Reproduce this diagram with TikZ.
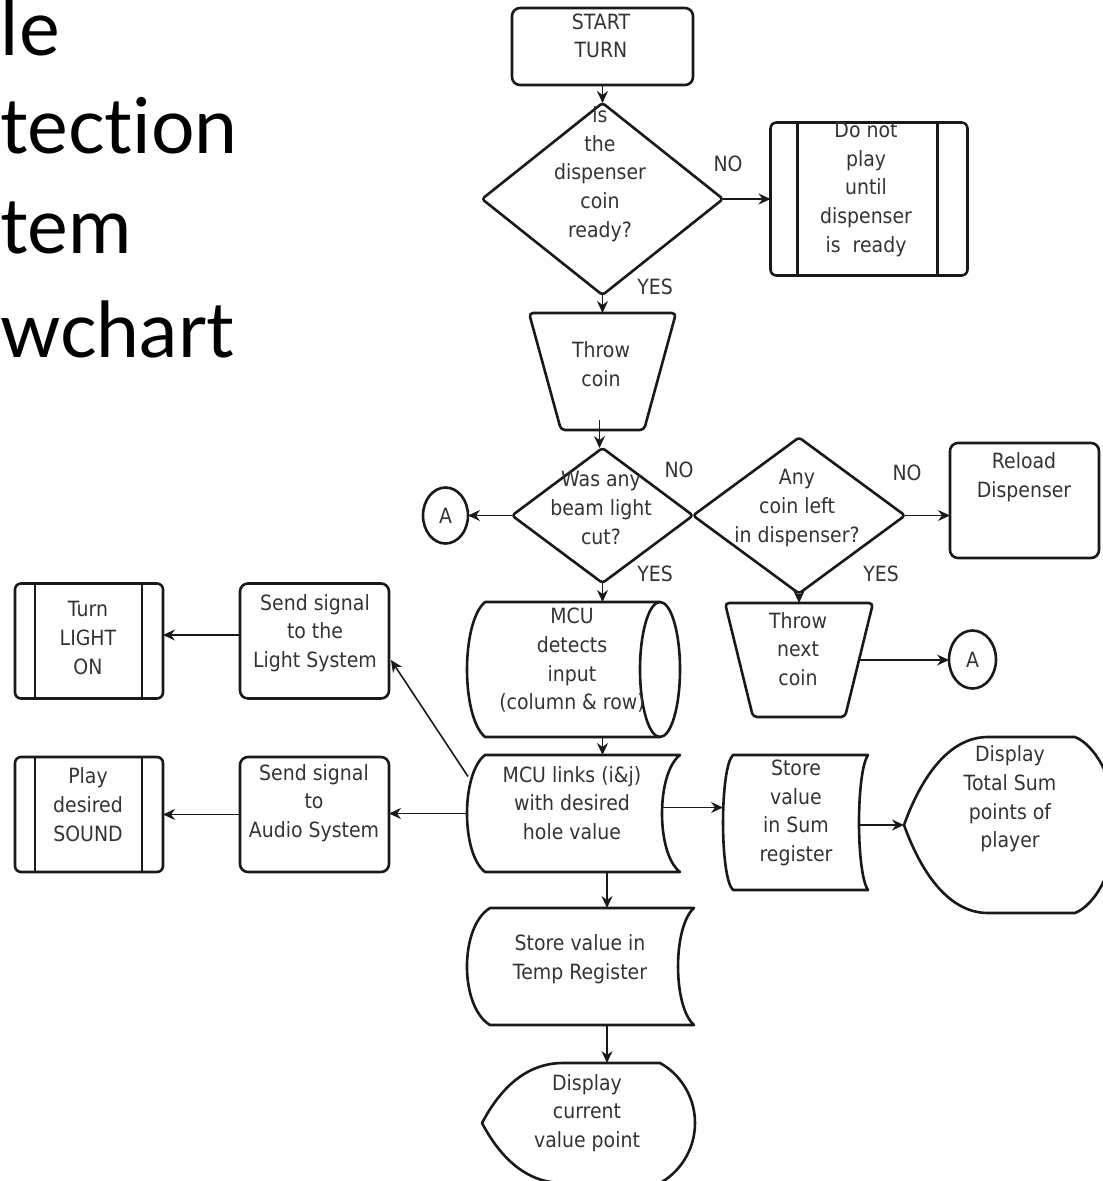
\documentclass[tikz,border=0pt]{standalone}
\usepackage{fontspec}
\setmainfont{DejaVu Sans}[FakeStretch=0.9]
\newfontfamily\titlefont{Lato}[Ligatures={NoCommon,NoRequired,NoContextual}]
\usetikzlibrary{shapes.geometric,arrows.meta,calc}

% two vertical rules of a predefined-process box
\newcommand\pplines[3]{%
  \draw[outline] ([xshift=#2pt]#1.north west) -- ([xshift=#2pt]#1.south west);
  \draw[outline] ([xshift=-#3pt]#1.north east) -- ([xshift=-#3pt]#1.south east);}

\begin{document}
\begin{tikzpicture}[x=1pt,y=-1pt,
  every node/.style={inner sep=0pt,outer sep=0pt},
  outline/.style={draw=black!90,line width=2.6pt,line join=round},
  bb/.style 2 args={rectangle,minimum width=#1pt,minimum height=#2pt},
  rbox/.style 2 args={bb={#1}{#2},outline,rounded corners=8pt},
  pbox/.style 2 args={bb={#1}{#2},outline,rounded corners=6pt},
  conn/.style={ellipse,outline,font=\fontsize{21}{28}\selectfont,text=black!80},
  txt/.style={align=center,text=black!80,font=\fontsize{21}{28.7}\selectfont},
  title/.style={anchor=base west,font=\titlefont\fontsize{77}{86}\selectfont},
  arr/.style={draw=black!90,line width=1.6pt,-{Stealth[length=12pt,width=11pt,inset=4pt]}},
  line/.style={draw=black!90,line width=1.6pt}]

\useasboundingbox (0,0) rectangle (1103,1181);

% heading lines
\node[title] (h1) at (1,55) {le};
\node[title] (h2) at (0,153) {tection};
\node[title] (h3) at (0,253) {tem};
\node[title] (h4) at (0,357) {wchart};

% ---------- shapes ----------
\node[rbox={181}{77}] (start) at (602.5,46.5) {};
\node[txt] (start-t) at (601,36) {START\\TURN};

\node[bb={241}{192}] (d1) at (602.5,199) {};
\draw[outline,rounded corners=3pt] (d1.north) -- (d1.east) -- (d1.south) -- (d1.west) -- cycle;
\node[txt] (d1-t) at (600,174) {is\\the\\dispenser\\coin\\ready?};

\node[pbox={197}{153}] (dnp) at (869,199) {};
\pplines{dnp}{27}{30}
\node[txt] (dnp-t) at (866,189.5) {Do not\\play\\until\\dispenser\\is\ \ ready};

\node[bb={147}{117}] (tc) at (602.5,371.5) {};
\draw[outline,rounded corners=4pt] (tc.north west) -- (tc.north east)
  -- ([xshift=-32pt]tc.south east) -- ([xshift=32pt]tc.south west) -- cycle;
\node[txt] (tc-t) at (601,364.5) {Throw\\coin};

\node[bb={181}{135}] (d2) at (602.5,515.5) {};
\draw[outline,rounded corners=3pt] (d2.north) -- (d2.east) -- (d2.south) -- (d2.west) -- cycle;
\node[txt] (d2-t) at (601,508) {Was any\\beam light\\cut?};

\node[bb={212}{156}] (d3) at (799,515.5) {};
\draw[outline,rounded corners=3pt] (d3.north) -- (d3.east) -- (d3.south) -- (d3.west) -- cycle;
\node[txt] (d3-t) at (797,508) {Any\\coin left\\in dispenser?};

\node[rbox={149}{115}] (reload) at (1024.5,500.5) {};
\node[txt] (reload-t) at (1024,477.5) {Reload\\Dispenser};

\node[bb={148}{114}] (tn) at (799,660) {};
\draw[outline,rounded corners=4pt] (tn.north west) -- (tn.north east)
  -- ([xshift=-28pt]tn.south east) -- ([xshift=28pt]tn.south west) -- cycle;
\node[txt] (tn-t) at (798,649) {Throw\\next\\coin};

\node[conn,minimum width=45pt,minimum height=56pt] (a1) at (445.5,515.5) {A};
\node[conn,minimum width=47pt,minimum height=58pt] (a2) at (972.5,659.5) {A};

% direct access storage
\node[bb={213}{135}] (cyl) at (573.5,669.5) {};
\draw[outline,shift={(cyl.center)}] (86.5,-67.5) -- (-88.5,-67.5)
  .. controls (-112.5,-47) and (-112.5,47) .. (-88.5,67.5) -- (86.5,67.5);
\draw[outline,shift={(cyl.center)}] (86.5,0) ellipse [x radius=20,y radius=67.5];
\node[txt] (cyl-t) at (572,660.5) {MCU\\detects\\input\\(column \& row)};

% stored data shapes
\node[bb={213}{117}] (links) at (573.5,813.5) {};
\draw[outline,shift={(links.center)}] (-88.5,-58.5) -- (106.5,-58.5)
  .. controls (82.5,-40) and (82.5,40) .. (106.5,58.5) -- (-88.5,58.5)
  .. controls (-112.5,40) and (-112.5,-40) .. cycle;
\node[txt] (links-t) at (572,803) {MCU links (i\&j)\\with desired\\hole value};

\node[bb={145}{135}] (sum) at (795.5,822.5) {};
\draw[outline,shift={(sum.center)}] (-62.5,-67.5) -- (72.5,-67.5)
  .. controls (60.5,-50) and (60.5,50) .. (72.5,67.5) -- (-62.5,67.5)
  .. controls (-75.8,55) and (-75.8,-55) .. cycle;
\node[txt] (sum-t) at (796,813) {Store\\value\\in Sum\\register};

\node[bb={227}{117}] (temp) at (580.5,966.5) {};
\draw[outline,shift={(temp.center)}] (-90.5,-58.5) -- (113.5,-58.5)
  .. controls (92.2,-40) and (92.2,40) .. (113.5,58.5) -- (-90.5,58.5)
  .. controls (-121.2,40) and (-121.2,-40) .. cycle;
\node[txt] (temp-t) at (580,959) {Store value in\\Temp Register};

% display shapes
\node[bb={212}{176}] (disp1) at (1010,825) {};
\draw[outline,shift={(disp1.center)}] (-106,0)
  .. controls (-88,-50) and (-60,-88) .. (-22,-88) -- (65,-88)
  .. controls (85,-80) and (106,-45) .. (106,0)
  .. controls (106,45) and (85,80) .. (65,88) -- (-22,88)
  .. controls (-60,88) and (-88,50) .. cycle;
\node[txt] (disp1-t) at (1010,799) {Display\\Total Sum\\points of\\player};

\node[bb={213}{120}] (disp2) at (588.5,1123) {};
\draw[outline,shift={(disp2.center)}] (-106.5,0)
  .. controls (-88,-35) and (-62,-60) .. (-25.5,-60) -- (71.5,-60)
  .. controls (90,-50) and (106.5,-28) .. (106.5,0)
  .. controls (106.5,28) and (90,50) .. (71.5,60) -- (-25.5,60)
  .. controls (-62,60) and (-88,35) .. cycle;
\node[txt] (disp2-t) at (587,1113) {Display\\current\\value point};

% left column
\node[rbox={149}{115}] (light) at (314.5,641) {};
\node[txt] (light-t) at (315,633) {Send signal\\to the\\Light System};
\node[pbox={148}{115}] (turn) at (89,641) {};
\pplines{turn}{20}{21}
\node[txt] (turn-t) at (88,638) {Turn\\LIGHT\\ON};

\node[rbox={149}{115}] (audio) at (314.5,814.5) {};
\node[txt] (audio-t) at (314,803) {Send signal\\to\\Audio System};
\node[pbox={148}{115}] (play) at (89,814.5) {};
\pplines{play}{20}{21}
\node[txt] (play-t) at (88,804.5) {Play\\desired\\SOUND};

% branch labels
\node[txt] (no1) at (728,164) {NO};
\node[txt] (yes1) at (655,287) {YES};
\node[txt] (no2) at (679,470) {NO};
\node[txt] (yes2) at (655,574) {YES};
\node[txt] (no3) at (907,473) {NO};
\node[txt] (yes3) at (881,574) {YES};

% ---------- connectors ----------
\draw[arr] (start.south) -- (d1.north);
\draw[arr] (d1.east) -- (d1.east -| dnp.west);
\draw[arr] (d1.south) -- (tc.north);
\draw[arr] ([xshift=-3pt,yshift=10pt]tc.south) -- ([xshift=-3pt]d2.north);
\draw[arr] (d2.west) -- (d2.west -| a1.east);
\draw[arr] (d2.south) -- (cyl.north -| d2.south);
\draw[arr] (d3.east) -- (d3.east -| reload.west);
\draw[arr] (d3.south) -- (tn.north);
\coordinate (tnout) at ($(tn.east)+(-14,0)$);
\draw[arr] (tnout) -- (tnout -| a2.west);
\coordinate (cylout) at (cyl.south -| d2.south);
\draw[arr] (cylout) -- (cylout |- links.north);
\draw[arr] ([xshift=1pt,yshift=37pt]links.west) -- ([xshift=2pt,yshift=-19pt]light.east);
\draw[arr] (links.west) -- (links.west -| audio.east);
\coordinate (lkout) at ($(links.east)+(-18,-6)$);
\draw[arr] (lkout) -- (lkout -| sum.west);
\coordinate (sumout) at ($(sum.east)+(-9,2.5)$);
\draw[arr] (sumout) -- (sumout -| disp1.west);
\coordinate (lkdown) at ($(links.south)+(33.5,0)$);
\draw[arr] (lkdown) -- (lkdown |- temp.north);
\coordinate (tpdown) at (temp.south -| lkdown);
\draw[arr] (tpdown) -- (tpdown |- disp2.north);
\draw[arr] ([yshift=6pt]light.west) -- ([yshift=6pt]turn.east);
\draw[arr] (audio.west) -- (play.east);
\end{tikzpicture}
\end{document}
